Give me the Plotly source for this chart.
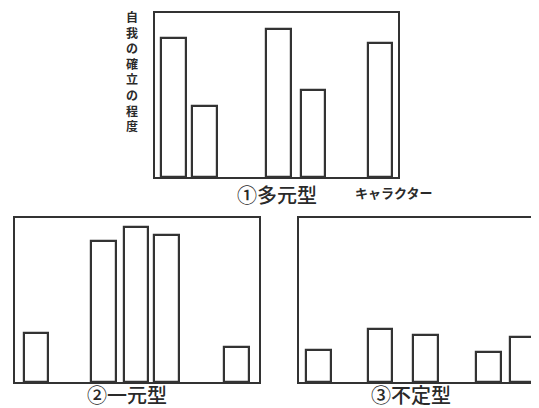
import plotly.graph_objects as go

# Data: character positions (slot units) and degree of ego establishment (0-100)
pos_multi = [0.60, 1.60, 3.98, 5.10, 7.26]
val_multi = [85, 43, 90, 53, 82]

pos_single = [0.68, 2.85, 3.90, 4.89, 7.15]
val_single = [30, 86, 94.5, 89.6, 21.5]

pos_undef = [0.63, 2.61, 4.08, 6.11, 7.21]
val_undef = [19.5, 32.3, 28.7, 18.3, 27.4]

title_multi = ("①", "多元型")
title_single = ("②", "一元型")
title_undef = ("③", "不定型")
ylabel = "自我の確立の程度"
xlabel = "キャラクター"

# page has a default 8px body margin; figure fills the rest of the 539x408 window
OFF = 8
W, H = 539 - OFF, 408 - OFF
LINE = "#333333"
FONT = "Noto Sans CJK JP"


def px(x):
    return (x - OFF) / W


def py(y):
    return 1 - (y - OFF) / H


fig = go.Figure()

panels = [
    (pos_multi, val_multi, "x", "y", (155, 398), (13, 177), 7.84, True),
    (pos_single, val_single, "x2", "y2", (15, 259), (218, 382), 7.87, True),
    (pos_undef, val_undef, "x3", "y3", (299, 539), (218, 382), 7.74, False),
]

layout = {}
for i, (xs, ys, xa, ya, (x0, x1), (y0, y1), xr, right_edge) in enumerate(panels):
    fig.add_trace(go.Bar(
        x=xs, y=ys, xaxis=xa, yaxis=ya, width=0.8,
        marker=dict(color="white", line=dict(color=LINE, width=2.2)),
        hoverinfo="skip", showlegend=False,
    ))
    xkey = "xaxis" if i == 0 else f"xaxis{i+1}"
    ykey = "yaxis" if i == 0 else f"yaxis{i+1}"
    layout[xkey] = dict(
        domain=[max(0, px(x0)), min(1, px(x1))], range=[0, xr], anchor=ya,
        showline=True, mirror=True, linecolor=LINE, linewidth=2,
        showticklabels=False, ticks="", showgrid=False, zeroline=False,
    )
    layout[ykey] = dict(
        domain=[py(y1), py(y0)], range=[0, 100], anchor=xa,
        showline=True, mirror=right_edge, linecolor=LINE, linewidth=2,
        showticklabels=False, ticks="", showgrid=False, zeroline=False,
    )

fig.update_layout(
    width=W, height=H,
    margin=dict(l=0, r=0, t=0, b=0),
    paper_bgcolor="white", plot_bgcolor="white",
    font=dict(family=FONT, color="#222222"),
    bargap=0,
    **layout,
)


def title_text(parts):
    num, name = parts
    return num + name


ann = [
    dict(text=title_text(title_multi), x=277, y=194, size=20, weight=500),
    dict(text=title_text(title_single), x=127, y=394, size=20, weight=500),
    dict(text=title_text(title_undef), x=411, y=394, size=20, weight=500),
    dict(text=xlabel, x=393, y=192, size=13, weight=700),
    dict(text="<br>".join(list(ylabel)), x=132, y=71, size=12, weight=600),
]
for a in ann:
    fig.add_annotation(
        text=a["text"], x=px(a["x"]), y=py(a["y"]), xref="paper", yref="paper",
        xanchor="center", yanchor="middle", showarrow=False,
        font=dict(size=a["size"], family=FONT, color="#2a2a2a", weight=a["weight"]),
    )

fig.write_html("out.html")
